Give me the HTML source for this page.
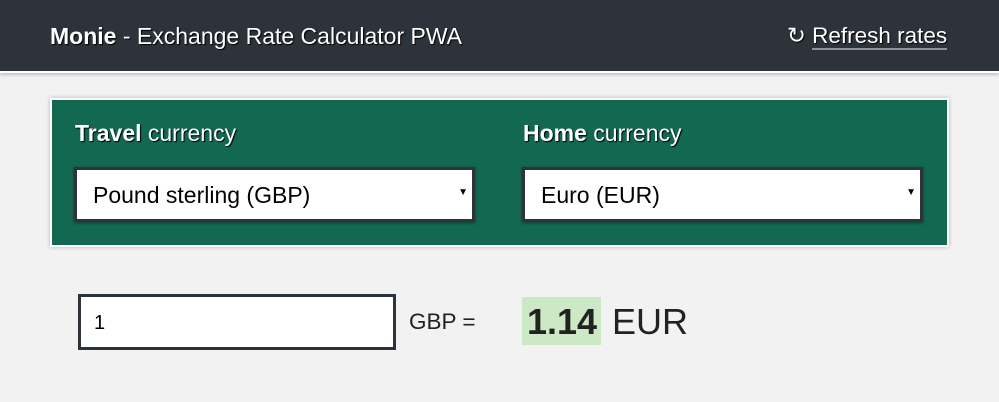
<!DOCTYPE html>
<html><head><meta charset="utf-8"><style>
*{box-sizing:border-box;margin:0;padding:0}
body{width:999px;height:402px;background:#f2f2f2;font-family:"Liberation Sans",Arial,sans-serif;position:relative;overflow:hidden}
.hdr{position:absolute;left:0;top:0;width:999px;height:73px;background:#2d333b;border-bottom:2px solid #fff;box-shadow:0 2px 3px rgba(0,0,0,.2)}
.title{position:absolute;left:50px;top:23px;font-size:23px;color:#fff;text-shadow:1px 1px 1px #000;white-space:nowrap}
.refresh{position:absolute;left:787px;top:23px;font-size:22.5px;color:#fff;text-shadow:1px 1px 1px #000;white-space:nowrap}
.refresh span.t{border-bottom:2px solid #8a9199;padding-bottom:0px}
.panel{position:absolute;left:50px;top:98px;width:899px;height:149px;background:#126850;border:2px solid #fff;box-shadow:0 0 4px rgba(0,0,0,.25)}
.lbl{position:absolute;top:20px;font-size:23px;color:#fff;text-shadow:1px 1px 1px #000;white-space:nowrap}
.sel{position:absolute;top:67px;width:401px;height:55px;background:#fff;border:3px solid #2d333b;font-size:23px;color:#000;padding:12px 0 0 16px;box-shadow:0 1px 3px rgba(0,0,0,.4);white-space:nowrap}
.sel .arr{position:absolute;right:4px;top:17px;font-size:10px}
.inp{position:absolute;left:78px;top:294px;width:318px;height:56px;background:#fff;border:3px solid #2d333b;font-size:20px;padding:15px 0 0 13px}
.eq{position:absolute;left:409px;top:309px;font-size:22.5px;color:#222;white-space:nowrap}
.res{position:absolute;left:522px;top:297px;width:79px;height:48px;background:#cde8c5;font-size:36px;font-weight:bold;color:#222;padding:4px 0 0 5px}
.cur{position:absolute;left:612px;top:301px;font-size:36px;color:#222}
</style></head><body>
<div class="hdr">
 <div class="title"><b>Monie</b> - Exchange Rate Calculator PWA</div>
 <div class="refresh">↻ <span class="t">Refresh rates</span></div>
</div>
<div class="panel">
 <div class="lbl" style="left:23px"><b>Travel</b> currency</div>
 <div class="sel" style="left:22px">Pound sterling (GBP)<span class="arr">▼</span></div>
 <div class="lbl" style="left:471px"><b>Home</b> currency</div>
 <div class="sel" style="left:470px">Euro (EUR)<span class="arr">▼</span></div>
</div>
<div class="inp">1</div>
<div class="eq">GBP =</div>
<div class="res">1.14</div>
<div class="cur">EUR</div>
</body></html>
